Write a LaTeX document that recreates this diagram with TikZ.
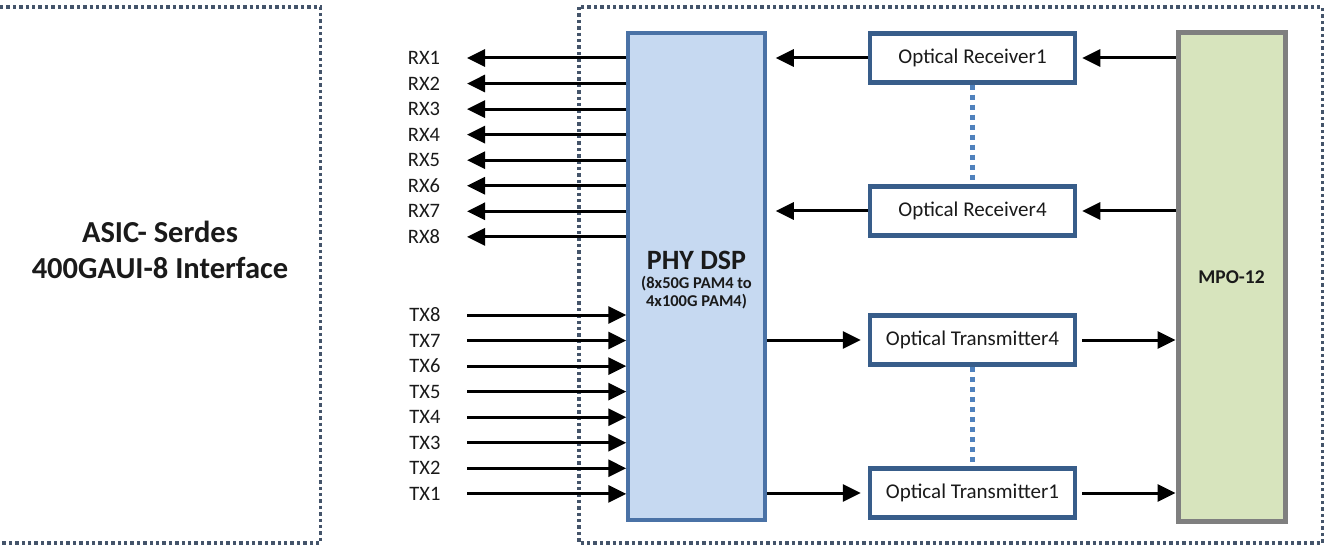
\documentclass[tikz,border=0pt]{standalone}
\usepackage{fontspec}
\setmainfont{Carlito}
\usetikzlibrary{arrows.meta}
\definecolor{dotc}{HTML}{44546A}
\definecolor{phyfill}{HTML}{C6D9F1}
\definecolor{phyline}{HTML}{4A72A6}
\definecolor{optline}{HTML}{385D8A}
\definecolor{mpofill}{HTML}{D7E4BD}
\definecolor{mpoline}{HTML}{7F7F7F}
\definecolor{linkc}{HTML}{4F81BD}
\definecolor{txtc}{HTML}{1A1A1A}
\begin{document}
\begin{tikzpicture}[x=1pt,y=-1pt,
  frame/.style={draw=dotc, line width=3.2pt, dash pattern=on 3.4pt off 3pt},
  arr/.style={draw=black, line width=3pt, -{Triangle[length=18pt,width=17pt]}},
  lbl/.style={font=\fontsize{20.5}{24}\selectfont, text=txtc, anchor=center, inner sep=0pt},
  optbox/.style={draw=optline, line width=4.5pt, fill=white, minimum width=205pt, minimum height=49pt, font=\fontsize{21}{25}\selectfont, text=txtc, inner sep=0pt},
  link/.style={draw=linkc, line width=5pt, dash pattern=on 5pt off 5pt}]
\useasboundingbox (0,0) rectangle (1325,548);
% frames
\draw[frame] (0,7) -- (320.5,7) -- (320.5,543) -- (0,543);
\draw[frame] (579,7) rectangle (1322.5,543);
% left text
\node[font=\bfseries\fontsize{30.5}{36}\selectfont, text=txtc, align=center] (asic) at (160,250) {ASIC- Serdes\\400GAUI-8 Interface};
% PHY DSP
\node[draw=phyline, fill=phyfill, line width=3.5pt, minimum width=137pt, minimum height=487pt, inner sep=0pt] (phy) at (696.5,276.5) {};
\node[font=\bfseries\fontsize{28}{32}\selectfont, text=txtc, inner sep=0pt] (phyt) at (696.5,260) {PHY DSP};
\node[font=\bfseries\fontsize{16.5}{18}\selectfont, text=txtc, align=center, inner sep=0pt] (phys) at (696.5,293) {(8x50G PAM4 to\\4x100G PAM4)};
% MPO
\node[draw=mpoline, fill=mpofill, line width=5pt, minimum width=107pt, minimum height=488pt, inner sep=0pt] (mpo) at (1231.5,277) {};
\node[font=\bfseries\fontsize{19.5}{23}\selectfont, text=txtc, inner sep=0pt] (mpot) at (1231.5,277) {MPO-12};
% optical boxes
\node[optbox] (r1) at (972.5,58) {Optical Receiver1};
\node[optbox] (r4) at (972.5,211) {Optical Receiver4};
\node[optbox] (t4) at (972.5,340) {Optical Transmitter4};
\node[optbox] (t1) at (972.5,493) {Optical Transmitter1};
% dotted links
\draw[link] (r1.south) -- (r4.north);
\draw[link] (t4.south) -- (t1.north);
% RX lanes
\foreach \i in {1,...,8}{
  \pgfmathsetmacro{\yy}{58+25.55*(\i-1)}
  \coordinate (rxe\i) at (467,\yy);
  \draw[arr] (phy.west |- rxe\i) -- (rxe\i);
  \node[lbl] (rxl\i) at (424,\yy) {RX\i};
}
% TX lanes
\foreach \i in {1,...,8}{
  \pgfmathsetmacro{\yy}{315+25.55*(8-\i)}
  \coordinate (txs\i) at (467,\yy);
  \draw[arr] (txs\i) -- (phy.west |- txs\i);
  \node[lbl] (txl\i) at (425,\yy) {TX\i};
}
% optical connections
\draw[arr] (r1.west) -- ([xshift=9pt]phy.east |- r1.west);
\draw[arr] (r4.west) -- ([xshift=9pt]phy.east |- r4.west);
\draw[arr] (mpo.west |- r1) -- ([xshift=5pt]r1.east);
\draw[arr] (mpo.west |- r4) -- ([xshift=5pt]r4.east);
\draw[arr] (phy.east |- t4) -- ([xshift=-7pt]t4.west);
\draw[arr] (phy.east |- t1) -- ([xshift=-7pt]t1.west);
\draw[arr] ([xshift=5pt]t4.east) -- (mpo.west |- t4);
\draw[arr] ([xshift=5pt]t1.east) -- (mpo.west |- t1);
\end{tikzpicture}
\end{document}
